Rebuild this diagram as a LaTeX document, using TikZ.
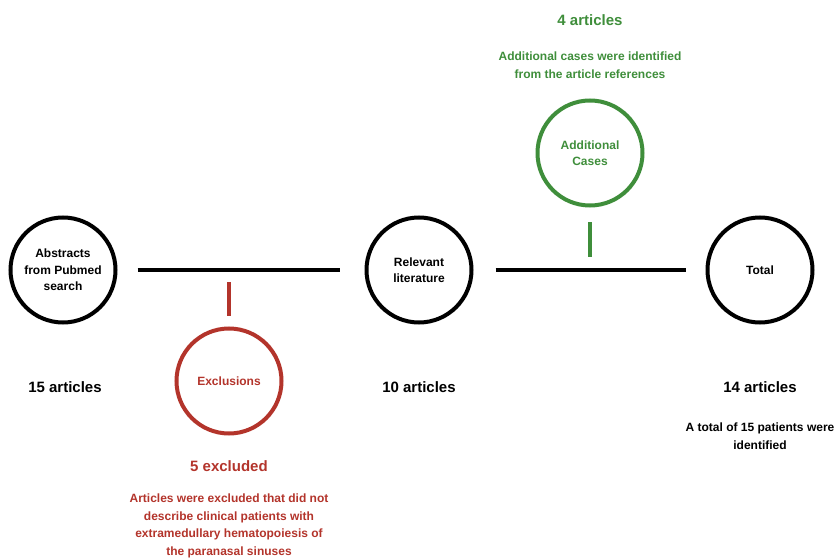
\documentclass[tikz,border=0pt]{standalone}
\usepackage{fontspec}
\setmainfont{Liberation Sans}
\usepackage{tikz}
\usetikzlibrary{positioning}
\definecolor{exred}{HTML}{B3342B}
\definecolor{addgreen}{HTML}{3F8E3B}
\tikzset{>=latex}
\tikzset{stage/.style={circle, draw, line width=4pt, minimum size=105pt, inner sep=0pt,
    align=center, font=\fontsize{12}{16.5}\selectfont\bfseries}}
\tikzset{link/.style={line width=4pt}}
\tikzset{count/.style={font=\fontsize{15}{17}\selectfont\bfseries}}
\tikzset{note/.style={align=center, font=\fontsize{12}{17.5}\selectfont\bfseries}}

\begin{document}
\begin{tikzpicture}[x=1pt, y=-1pt]
  \useasboundingbox (0,0) rectangle (836,559);
  % main row
  \node[stage] (abs) at (63,270) {Abstracts\\from Pubmed\\search};
  \node[stage] (rel) at (419,270) {Relevant\\literature};
  \node[stage] (tot) at (760,270) {Total};
  \draw[link, shorten <=20pt, shorten >=25pt] (abs) -- (rel);
  \draw[link, shorten <=22pt, shorten >=20pt] (rel) -- (tot);
  % exclusions
  \node[stage, draw=exred, text=exred] (exc) at (229,381) {Exclusions};
  \draw[link, exred, shorten <=11pt] (exc.north) -- ++(0,-45) coordinate (exctop);
  % additional cases
  \node[stage, draw=addgreen, text=addgreen] (add) at (590,153) {Additional\\Cases};
  \draw[link, addgreen, shorten <=15pt] (add.south) -- ++(0,49) coordinate (addbot);
  % counts
  \node[count] (absn) at (65,387) {15 articles};
  \node[count] (reln) at (419,387) {10 articles};
  \node[count] (totn) at (760,387) {14 articles};
  \node[note] (totnote) at (760,436) {A total of 15 patients were\\identified};
  \node[count, text=exred] (excn) at (229,466) {5 excluded};
  \node[note, text=exred] (excnote) at (229,526) {Articles were excluded that did not\\describe clinical patients with\\extramedullary hematopoiesis of\\the paranasal sinuses};
  \node[count, text=addgreen] (addn) at (590,20) {4 articles};
  \node[note, text=addgreen] (addnote) at (590,65) {Additional cases were identified\\from the article references};
\end{tikzpicture}
\end{document}
